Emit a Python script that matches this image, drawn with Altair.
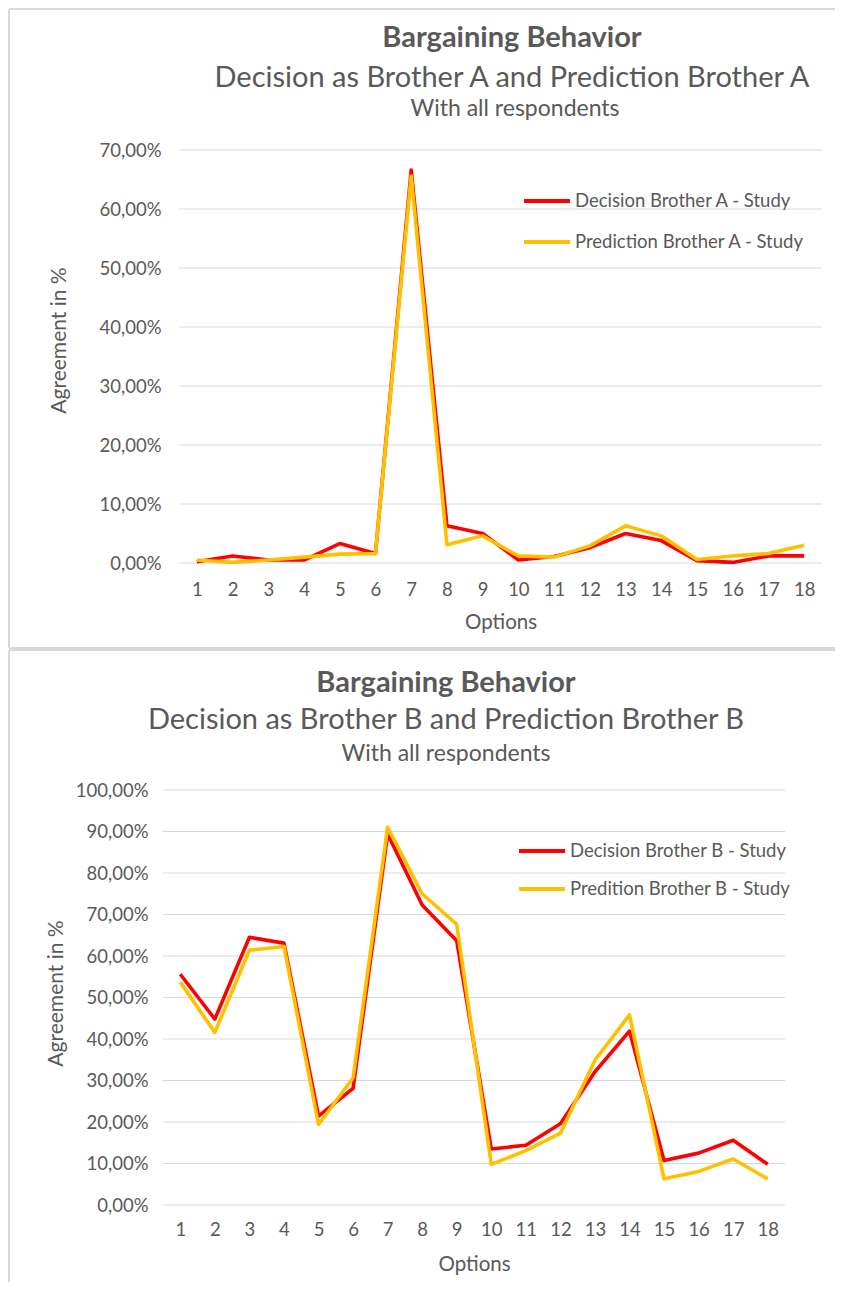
import altair as alt
import pandas as pd

options = list(range(1, 19))

decision_a = [0.2, 1.2, 0.5, 0.5, 3.3, 1.6, 66.6, 6.3, 5.0, 0.5, 1.1, 2.6, 5.0, 3.8, 0.4, 0.1, 1.2, 1.2]
prediction_a = [0.5, 0.1, 0.5, 1.0, 1.5, 1.6, 65.6, 3.1, 4.6, 1.2, 1.0, 2.9, 6.3, 4.6, 0.6, 1.2, 1.6, 3.0]
decision_b = [55.6, 44.8, 64.5, 63.1, 21.4, 28.1, 89.4, 72.3, 63.7, 13.5, 14.4, 19.6, 32.1, 41.9, 10.7, 12.5, 15.6, 9.8]
prediction_b = [53.7, 41.6, 61.4, 62.3, 19.4, 30.6, 91.0, 75.0, 67.6, 9.8, 13.1, 17.3, 34.9, 45.8, 6.3, 8.1, 11.1, 6.3]

names_a = ["Decision Brother A - Study", "Prediction Brother A - Study"]
names_b = ["Decision Brother B - Study", "Predition Brother B - Study"]

ticks_a = [0, 10, 20, 30, 40, 50, 60, 70]
ticks_b = [0, 10, 20, 30, 40, 50, 60, 70, 80, 90, 100]

titles_a = ["Bargaining Behavior", "Decision as Brother A and  Prediction Brother A", "With all respondents"]
titles_b = ["Bargaining Behavior", "Decision as Brother B and Prediction Brother B", "With all respondents"]

FONT = "Lato"
GRAY = "#595959"
GRID = "#d9d9d9"
FRAME = "#d9d9d9"
COLORS = ["#FF0000", "#FFC000"]


def one_row():
    return pd.DataFrame({"k": [0]})


def panel(dec, pred, names, ticks, titles, ytitle, width, xrange, height,
          frame, draw_bottom, legend_xy, legend_pad, title_x, title_ys, ytitle_xy,
          label_pad, xlabel_pad):
    df = pd.DataFrame({
        "Option": options * 2,
        "Value": dec + pred,
        "Series": [names[0]] * len(options) + [names[1]] * len(options),
    })
    grid_df = pd.DataFrame({"Value": ticks})
    yscale = alt.Scale(domain=[ticks[0], ticks[-1]], nice=False)
    yaxis = alt.Axis(values=ticks, ticks=False, domain=False, grid=False,
                     labelExpr="replace(format(datum.value, '.2f'), '.', ',') + '%'",
                     labelPadding=label_pad, labelFontSize=18.5,
                     titleX=ytitle_xy[0], titleY=ytitle_xy[1], titleBaseline="middle",
                     titleFontSize=21)
    grid = alt.Chart(grid_df).mark_rule(color=GRID, strokeWidth=1).encode(
        y=alt.Y("Value:Q", title=ytitle, scale=yscale, axis=yaxis),
        x=alt.value(xrange[0]), x2=alt.value(xrange[1]),
    )
    lines = alt.Chart(df).mark_line(strokeWidth=3.6, strokeJoin="round").encode(
        x=alt.X("Option:O", title="Options",
                scale=alt.Scale(range=list(xrange)),
                axis=alt.Axis(labelAngle=0, ticks=False, domain=False,
                              grid=False, labelPadding=xlabel_pad, labelFontSize=18.5,
                              titleY=59, titleBaseline="middle", titleFontSize=20.5)),
        y=alt.Y("Value:Q", title=ytitle, scale=yscale, axis=yaxis),
        color=alt.Color("Series:N",
                        scale=alt.Scale(domain=names, range=COLORS),
                        legend=alt.Legend(orient="none", legendX=legend_xy[0], legendY=legend_xy[1],
                                          title=None, symbolType="stroke", symbolStrokeWidth=4,
                                          symbolSize=2116, labelFontSize=18.5, labelColor=GRAY,
                                          labelFont=FONT, rowPadding=legend_pad, labelOffset=3,
                                          labelLimit=400)),
        order=alt.Order("Series:N"),
    )
    left, top, right, bottom = frame
    rules = [
        alt.Chart(one_row()).mark_rule(color=FRAME, strokeWidth=2).encode(
            x=alt.value(left), x2=alt.value(right), y=alt.value(top)),
        alt.Chart(one_row()).mark_rule(color=FRAME, strokeWidth=2).encode(
            x=alt.value(left), y=alt.value(top), y2=alt.value(bottom)),
    ]
    if draw_bottom:
        rules.append(alt.Chart(one_row()).mark_rule(color=FRAME, strokeWidth=2).encode(
            x=alt.value(left), x2=alt.value(right), y=alt.value(bottom)))
    texts = [
        alt.Chart(one_row()).mark_text(text=titles[0], font=FONT, fontSize=29, fontWeight="bold",
                                       color=GRAY, align="center", baseline="middle").encode(
            x=alt.value(title_x[0]), y=alt.value(title_ys[0])),
        alt.Chart(one_row()).mark_text(text=titles[1], font=FONT, fontSize=29,
                                       color=GRAY, align="center", baseline="middle").encode(
            x=alt.value(title_x[1]), y=alt.value(title_ys[1])),
        alt.Chart(one_row()).mark_text(text=titles[2], font=FONT, fontSize=23,
                                       color=GRAY, align="center", baseline="middle").encode(
            x=alt.value(title_x[2]), y=alt.value(title_ys[2])),
    ]
    return alt.layer(*rules, grid, lines, *texts).properties(width=width, height=height)


# both panels share the same plot origin (page x 162); the top panel's points start 16px in
top = panel(decision_a, prediction_a, names_a, ticks_a, titles_a, "Agreement  in %",
            659, (16, 659), 413, (-154, -141, 672, 498), True, (359, 26), 6, (349, 349, 352),
            (-112, -72, -41), (-104, 190), 2, 17)
bottom = panel(decision_b, prediction_b, names_b, ticks_b, titles_b, "Agreement in %",
               622, (0, 622), 415, (-154, -140, 672, 492), False, (354, 36), 3, (283, 283, 283),
               (-107, -70, -36), (-107, 203), 15, 15)

chart = alt.vconcat(top, bottom, spacing=0).resolve_scale(
    color="independent", x="independent", y="independent"
).resolve_legend(color="independent").properties(
    padding={"left": 0, "top": 0, "right": 0, "bottom": 0}
).configure_view(stroke=None).configure_axis(
    labelFont=FONT, titleFont=FONT, labelColor=GRAY, titleColor=GRAY,
    titleFontWeight="normal"
)

chart.save("out.html", embed_options={"renderer": "svg", "actions": False})
